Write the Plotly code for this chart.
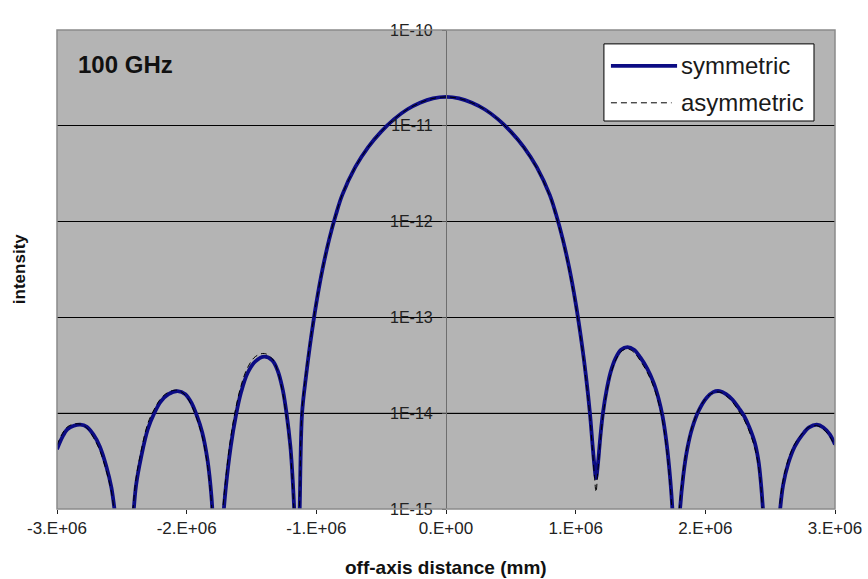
import plotly.graph_objects as go

# off-axis distance (mm), shared by both curves
x_offaxis = [
    -3.00e6, -2.96e6, -2.92e6, -2.87e6, -2.82e6, -2.77e6, -2.72e6, -2.67e6, -2.62e6, -2.58e6,
    -2.54e6, -2.48e6, -2.42e6, -2.39e6, -2.35e6, -2.30e6, -2.25e6, -2.20e6, -2.14e6, -2.07e6,
    -2.01e6, -1.96e6, -1.92e6, -1.88e6, -1.84e6, -1.81e6, -1.79e6, -1.76e6, -1.73e6, -1.70e6,
    -1.66e6, -1.62e6, -1.58e6, -1.53e6, -1.47e6, -1.40e6, -1.34e6, -1.30e6, -1.26e6, -1.23e6,
    -1.20e6, -1.18e6, -1.165e6, -1.15e6, -1.13e6, -1.11e6, -1.08e6, -1.05e6, -1.00e6, -0.95e6,
    -0.90e6, -0.85e6, -0.80e6, -0.70e6, -0.60e6, -0.50e6, -0.40e6, -0.30e6, -0.20e6, -0.10e6,
    0.0,
    0.10e6, 0.20e6, 0.30e6, 0.40e6, 0.50e6, 0.60e6, 0.70e6, 0.80e6, 0.85e6, 0.90e6,
    0.95e6, 1.00e6, 1.05e6, 1.08e6, 1.11e6, 1.13e6, 1.145e6, 1.157e6, 1.17e6, 1.19e6,
    1.21e6, 1.24e6, 1.27e6, 1.31e6, 1.35e6, 1.40e6, 1.45e6, 1.50e6, 1.55e6, 1.60e6,
    1.64e6, 1.67e6, 1.70e6, 1.73e6, 1.75e6, 1.775e6, 1.80e6, 1.83e6, 1.86e6, 1.90e6,
    1.95e6, 2.01e6, 2.06e6, 2.11e6, 2.16e6, 2.21e6, 2.26e6, 2.30e6, 2.34e6, 2.38e6,
    2.41e6, 2.43e6, 2.45e6, 2.51e6, 2.57e6, 2.60e6, 2.64e6, 2.69e6, 2.75e6, 2.80e6,
    2.86e6, 2.91e6, 2.96e6, 3.00e6,
]

# intensity, symmetric aperture
intensity_sym = [
    4.2e-15, 5.6e-15, 6.8e-15, 7.4e-15, 7.6e-15, 7.2e-15, 6.0e-15, 4.5e-15, 2.8e-15, 1.66e-15,
    6.3e-16, 1e-16, 6.3e-16, 1.78e-15, 3.55e-15, 6.8e-15, 1.0e-14, 1.32e-14, 1.58e-14, 1.70e-14,
    1.58e-14, 1.26e-14, 9.3e-15, 6.3e-15, 3.3e-15, 1.41e-15, 5e-16, 1e-16, 5e-16, 1.58e-15,
    4.5e-15, 9.5e-15, 1.66e-14, 2.63e-14, 3.47e-14, 3.89e-14, 3.55e-14, 2.82e-14, 1.78e-14, 1.0e-14,
    4.5e-15, 1.78e-15, 6.3e-16, 1e-16, 8e-16, 1.0e-14, 2.4e-14, 5.0e-14, 1.41e-13, 3.3e-13,
    6.6e-13, 1.17e-12, 1.9e-12, 3.7e-12, 6.0e-12, 8.7e-12, 1.175e-11, 1.48e-11, 1.74e-11, 1.93e-11,
    2.0e-11,
    1.93e-11, 1.74e-11, 1.48e-11, 1.175e-11, 8.7e-12, 6.0e-12, 3.7e-12, 1.9e-12, 1.17e-12, 6.6e-13,
    3.3e-13, 1.41e-13, 5.0e-14, 2.4e-14, 1.0e-14, 4.7e-15, 2.8e-15, 2.1e-15, 2.8e-15, 5.6e-15,
    1.0e-14, 1.78e-14, 2.7e-14, 3.8e-14, 4.6e-14, 4.9e-14, 4.6e-14, 3.8e-14, 2.95e-14, 2.1e-14,
    1.41e-14, 9.3e-15, 5.0e-15, 2.0e-15, 8e-16, 1e-16, 8e-16, 2.24e-15, 4.2e-15, 7.1e-15,
    1.07e-14, 1.45e-14, 1.66e-14, 1.70e-14, 1.58e-14, 1.38e-14, 1.12e-14, 9.3e-15, 7.1e-15, 5.0e-15,
    3.16e-15, 1.78e-15, 8e-16, 1e-16, 8e-16, 1.78e-15, 3.0e-15, 4.5e-15, 6.0e-15, 7.1e-15,
    7.6e-15, 7.1e-15, 6.0e-15, 4.7e-15,
]

# intensity, asymmetric aperture
intensity_asym = [
    4.6e-15, 6.1e-15, 7.2e-15, 7.7e-15, 7.7e-15, 7.0e-15, 5.6e-15, 4.1e-15, 2.5e-15, 1.5e-15,
    5.5e-16, 1e-16, 8e-16, 2.1e-15, 4.1e-15, 7.8e-15, 1.1e-14, 1.42e-14, 1.66e-14, 1.74e-14,
    1.54e-14, 1.18e-14, 8.6e-15, 5.7e-15, 2.9e-15, 1.2e-15, 4e-16, 1e-16, 7e-16, 2.0e-15,
    5.6e-15, 1.15e-14, 1.95e-14, 3.0e-14, 3.9e-14, 4.2e-14, 3.7e-14, 2.8e-14, 1.65e-14, 9.0e-15,
    4.0e-15, 1.5e-15, 5.5e-16, 1e-16, 1.0e-15, 1.1e-14, 2.6e-14, 5.3e-14, 1.45e-13, 3.35e-13,
    6.7e-13, 1.18e-12, 1.92e-12, 3.7e-12, 6.0e-12, 8.7e-12, 1.175e-11, 1.48e-11, 1.74e-11, 1.93e-11,
    2.0e-11,
    1.93e-11, 1.74e-11, 1.48e-11, 1.17e-11, 8.6e-12, 5.9e-12, 3.6e-12, 1.85e-12, 1.12e-12, 6.3e-13,
    3.1e-13, 1.33e-13, 4.7e-14, 2.2e-14, 9.0e-15, 4.1e-15, 2.2e-15, 1.5e-15, 2.4e-15, 5.1e-15,
    9.2e-15, 1.68e-14, 2.55e-14, 3.6e-14, 4.4e-14, 4.7e-14, 4.3e-14, 3.5e-14, 2.7e-14, 1.9e-14,
    1.27e-14, 8.3e-15, 4.4e-15, 1.7e-15, 6e-16, 1e-16, 1.0e-15, 2.5e-15, 4.5e-15, 7.4e-15,
    1.1e-14, 1.46e-14, 1.64e-14, 1.66e-14, 1.52e-14, 1.30e-14, 1.04e-14, 8.5e-15, 6.4e-15, 4.4e-15,
    2.8e-15, 1.6e-15, 6e-16, 1e-16, 1.0e-15, 2.0e-15, 3.3e-15, 4.8e-15, 6.2e-15, 7.2e-15,
    7.4e-15, 6.8e-15, 5.7e-15, 4.5e-15,
]

x_ticks = [-3e6, -2e6, -1e6, 0, 1e6, 2e6, 3e6]
x_labels = ["-3.E+06", "-2.E+06", "-1.E+06", "0.E+00", "1.E+06", "2.E+06", "3.E+06"]
y_ticks = [1e-15, 1e-14, 1e-13, 1e-12, 1e-11, 1e-10]
y_labels = ["1E-15", "1E-14", "1E-13", "1E-12", "1E-11", "1E-10"]

FONT = "Liberation Sans, Arial, sans-serif"
NAVY = "#0c0c84"
DASH = "6px,4px"

fig = go.Figure()
fig.add_trace(go.Scatter(x=x_offaxis, y=intensity_sym, mode="lines", name="symmetric",
                         line=dict(color=NAVY, width=3.8, shape="spline", smoothing=1.0)))
fig.add_trace(go.Scatter(x=x_offaxis, y=intensity_asym, mode="lines", name="asymmetric",
                         line=dict(color="#000000", width=1, dash=DASH,
                                   shape="spline", smoothing=1.0)))

# softer grid line at 1E-14
fig.add_shape(type="line", xref="paper", yref="y", x0=0, x1=1, y0=1e-14, y1=1e-14,
              line=dict(color="#6e6e6e", width=1.2), layer="below")

# frame around the plotting area
fig.add_shape(type="rect", xref="paper", yref="paper", x0=0, x1=1, y0=0, y1=1,
              line=dict(color="#8a8a8a", width=1.5))

# legend box
fig.add_shape(type="rect", xref="paper", yref="paper", x0=0.703, x1=0.973, y0=0.810, y1=0.971,
              line=dict(color="#000000", width=1), fillcolor="white")
fig.add_shape(type="line", xref="paper", yref="paper", x0=0.712, x1=0.797, y0=0.925, y1=0.925,
              line=dict(color=NAVY, width=3.8))
fig.add_shape(type="line", xref="paper", yref="paper", x0=0.712, x1=0.790, y0=0.848, y1=0.848,
              line=dict(color="#000000", width=1, dash=DASH))
fig.add_annotation(xref="paper", yref="paper", x=0.799, y=0.925, text="symmetric",
                   showarrow=False, xanchor="left", yanchor="middle",
                   font=dict(family=FONT, size=24, color="#1a1a1a"))
fig.add_annotation(xref="paper", yref="paper", x=0.799, y=0.848, text="asymmetric",
                   showarrow=False, xanchor="left", yanchor="middle",
                   font=dict(family=FONT, size=24, color="#1a1a1a"))

fig.add_annotation(xref="paper", yref="paper", x=0.024, y=0.927, text="<b>100 GHz</b>",
                   showarrow=False, xanchor="left", yanchor="middle",
                   font=dict(family=FONT, size=24, color="#111111"))
fig.add_annotation(xref="paper", yref="paper", x=0.5, y=-0.123, text="<b>off-axis distance (mm)</b>",
                   showarrow=False, xanchor="center", yanchor="middle",
                   font=dict(family=FONT, size=19, color="#111111"))
fig.add_annotation(xref="paper", yref="paper", x=-0.048, y=0.50, text="<b>intensity</b>",
                   showarrow=False, textangle=-90, xanchor="center", yanchor="middle",
                   font=dict(family=FONT, size=17, color="#111111"))

fig.update_layout(
    width=868, height=579,
    margin=dict(l=57, r=33, t=30, b=70, autoexpand=False),
    paper_bgcolor="white", plot_bgcolor="#b4b4b4",
    showlegend=False,
    font=dict(family=FONT, size=16, color="#222222"),
    xaxis=dict(range=[-3e6, 3e6], tickvals=x_ticks, ticktext=x_labels, automargin=False,
               ticks="outside", ticklen=4, tickcolor="#222222", showgrid=False,
               zeroline=False, showline=False, tickfont=dict(size=17)),
    yaxis=dict(type="log", range=[-15, -10], tickvals=y_ticks, ticktext=y_labels,
               anchor="free", position=0.5, side="left", automargin=False,
               ticks="outside", ticklen=4, tickcolor="#444444", ticklabelstandoff=6,
               showgrid=True, gridcolor="#000000", gridwidth=1.3,
               showline=True, linecolor="#6e6e6e", linewidth=1.2,
               tickfont=dict(size=16)),
)

fig.write_html("out.html")
